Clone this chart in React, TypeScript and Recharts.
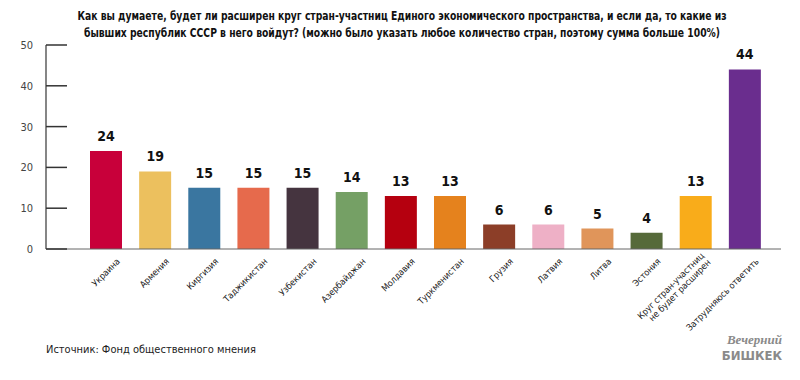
import React from 'react';
import { BarChart, Bar, XAxis, YAxis, Cell, LabelList } from 'recharts';

const categories = [
  'Украина', 'Армения', 'Киргизия', 'Таджикистан', 'Узбекистан', 'Азербайджан', 'Молдавия',
  'Туркменистан', 'Грузия', 'Латвия', 'Литва', 'Эстония',
  'Круг стран-участниц\nне будет расширен', 'Затрудняюсь ответить',
];
const values = [24, 19, 15, 15, 15, 14, 13, 13, 6, 6, 5, 4, 13, 44];
const colors = [
  '#c8003a', '#ecc05e', '#3a76a0', '#e66a4c', '#45343f', '#75a065', '#b5000f',
  '#e5821d', '#8c3e28', '#eeb0c6', '#e0955a', '#566a3a', '#f9ac1a', '#6a2d8e',
];
const yTicks = [0, 10, 20, 30, 40, 50];

const data = categories.map((name, i) => ({ name, value: values[i] }));

const NARROW = "'DejaVu Sans Condensed', 'Liberation Sans Narrow', sans-serif";
const AXIS_X = 46; // margin.left + YAxis width

const YTick = (props: any) => {
  const { y, payload } = props;
  return (
    <g>
      <path d={`M${AXIS_X},${y}H${AXIS_X + 21}`} stroke="#333" strokeWidth={1.5} fill="none" />
      <text x={AXIS_X - 13} y={y} dy={4} textAnchor="end" fontSize={11} fill="#444" fontFamily={NARROW}>
        {payload.value}
      </text>
    </g>
  );
};

const XTick = (props: any) => {
  const { x, y, payload } = props;
  const lines = String(payload.value).split('\n');
  return (
    <g transform={`translate(${x + 15},${y + 5})`}>
      <text transform="rotate(-45)" textAnchor="end" fontSize={9} fill="#222" fontFamily={NARROW}>
        {lines.map((l, i) => (
          <tspan key={i} x={0} dy={i === 0 ? (lines.length > 1 ? -8 : 0) : 9.5}>{l}</tspan>
        ))}
      </text>
    </g>
  );
};

export default function App() {
  return (
    <div style={{ position: 'absolute', left: 0, top: 0, width: 800, height: 380, background: '#fff', fontFamily: NARROW }}>
      <div style={{ position: 'absolute', left: 0, top: 7, width: 804, textAlign: 'center', fontWeight: 'bold', fontSize: 12.5, lineHeight: '17px', color: '#111', transform: 'scaleX(0.82)', whiteSpace: 'nowrap' }}>
        Как вы думаете, будет ли расширен круг стран-участниц Единого экономического пространства, и если да, то какие из
        <br />
        бывших республик СССР в него войдут? (можно было указать любое количество стран, поэтому сумма больше 100%)
      </div>
      <BarChart width={800} height={380} data={data} margin={{ top: 45, right: 19, bottom: 31, left: 6 }}>
        <YAxis
          domain={[0, 50]}
          ticks={yTicks}
          width={40}
          axisLine={{ stroke: '#444', strokeWidth: 1.3 }}
          tickLine={false}
          tick={YTick}
          interval={0}
        />
        <XAxis
          dataKey="name"
          height={100}
          interval={0}
          axisLine={{ stroke: '#666' }}
          tickLine={false}
          tick={XTick}
          padding={{ left: 35, right: 12 }}
        />
        <Bar dataKey="value" barSize={32} isAnimationActive={false}>
          {data.map((d, i) => <Cell key={d.name} fill={colors[i]} />)}
          <LabelList dataKey="value" position="top" offset={10} fontSize={14} fontWeight="bold" fill="#111" fontFamily={NARROW} />
        </Bar>
      </BarChart>
      <div style={{ position: 'absolute', left: 46, top: 343, fontSize: 11, color: '#222' }}>
        Источник: Фонд общественного мнения
      </div>
      <div style={{ position: 'absolute', left: 680, top: 333, width: 102, textAlign: 'right', color: '#8a8a8a', fontWeight: 'bold', fontStyle: 'italic', fontSize: 13, lineHeight: '13px', fontFamily: "'Liberation Serif', serif" }}>
        Вечерний
      </div>
      <div style={{ position: 'absolute', left: 680, top: 349, width: 102, textAlign: 'right', color: '#8a8a8a', fontWeight: 'bold', fontSize: 13, lineHeight: '13px' }}>
        БИШКЕК
      </div>
    </div>
  );
}
